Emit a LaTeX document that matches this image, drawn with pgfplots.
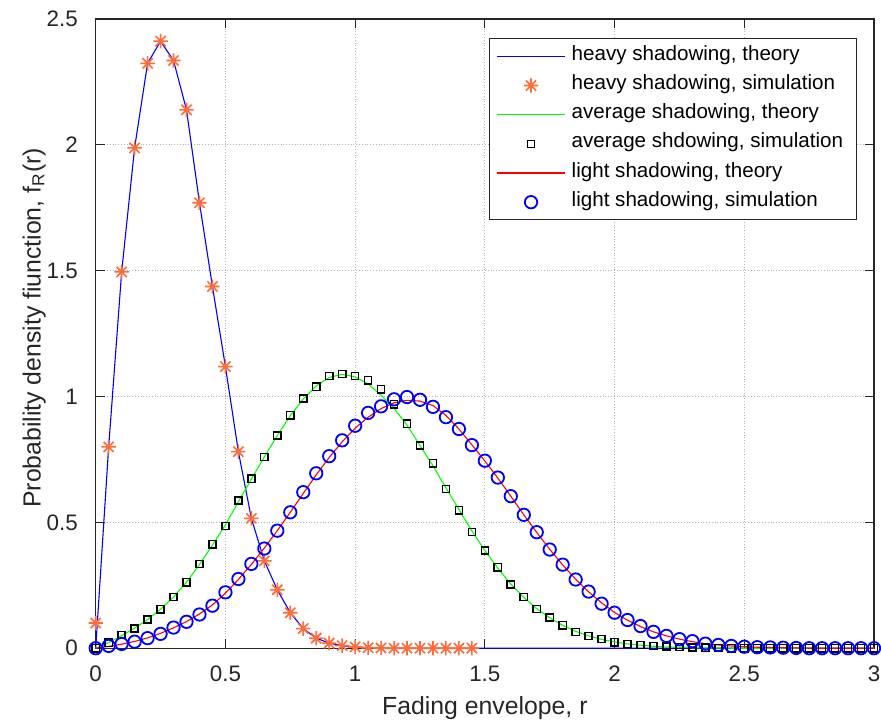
\documentclass[border=0pt]{standalone}
\usepackage{fontspec}
\setmainfont{Liberation Sans}
\usepackage{pgfplots}
\usepackage{pgfplotstable}
\pgfplotsset{compat=1.18}
\definecolor{axgray}{RGB}{38,38,38}
\definecolor{starorange}{RGB}{255,108,58}

\pgfdeclareplotmark{ast8}{%
  \pgfpathmoveto{\pgfqpoint{-\pgfplotmarksize}{0pt}}%
  \pgfpathlineto{\pgfqpoint{\pgfplotmarksize}{0pt}}%
  \pgfpathmoveto{\pgfqpoint{0pt}{-\pgfplotmarksize}}%
  \pgfpathlineto{\pgfqpoint{0pt}{\pgfplotmarksize}}%
  \pgfpathmoveto{\pgfqpoint{-0.7071\pgfplotmarksize}{-0.7071\pgfplotmarksize}}%
  \pgfpathlineto{\pgfqpoint{0.7071\pgfplotmarksize}{0.7071\pgfplotmarksize}}%
  \pgfpathmoveto{\pgfqpoint{-0.7071\pgfplotmarksize}{0.7071\pgfplotmarksize}}%
  \pgfpathlineto{\pgfqpoint{0.7071\pgfplotmarksize}{-0.7071\pgfplotmarksize}}%
  \pgfusepathqstroke}

\pgfplotstableread{
x     th     sim
0.00  0.000  0.100
0.05  0.800  0.800
0.10  1.495  1.495
0.15  1.988  1.988
0.20  2.324  2.324
0.25  2.412  2.412
0.30  2.335  2.335
0.35  2.139  2.139
0.40  1.770  1.770
0.45  1.437  1.437
0.50  1.119  1.119
0.55  0.781  0.781
0.60  0.516  0.516
0.65  0.347  0.347
0.70  0.232  0.232
0.75  0.141  0.141
0.80  0.078  0.078
0.85  0.040  0.040
0.90  0.020  0.020
0.95  0.010  0.010
1.00  0.005  0.005
1.05  0.002  0.002
1.10  0.001  0.001
1.15  0.000  0.000
1.20  0.000  0.000
1.25  0.000  0.000
1.30  0.000  0.000
1.35  0.000  0.000
1.40  0.000  0.000
1.45  0.000  0.000
1.50  0.000  nan
1.55  0.000  nan
1.60  0.000  nan
1.65  0.000  nan
1.70  0.000  nan
1.75  0.000  nan
1.80  0.000  nan
1.85  0.000  nan
1.90  0.000  nan
1.95  0.000  nan
2.00  0.000  nan
2.05  0.000  nan
2.10  0.000  nan
2.15  0.000  nan
2.20  0.000  nan
2.25  0.000  nan
2.30  0.000  nan
2.35  0.000  nan
2.40  0.000  nan
2.45  0.000  nan
2.50  0.000  nan
2.55  0.000  nan
2.60  0.000  nan
2.65  0.000  nan
2.70  0.000  nan
2.75  0.000  nan
2.80  0.000  nan
2.85  0.000  nan
2.90  0.000  nan
2.95  0.000  nan
3.00  0.000  nan
}\heavy

\pgfplotstableread{
x     th     sim
0.00  0.000  0.000
0.05  0.022  0.022
0.10  0.050  0.052
0.15  0.080  0.078
0.20  0.114  0.114
0.25  0.155  0.155
0.30  0.204  0.204
0.35  0.262  0.262
0.40  0.333  0.335
0.45  0.410  0.413
0.50  0.490  0.486
0.55  0.582  0.587
0.60  0.672  0.673
0.65  0.760  0.760
0.70  0.845  0.845
0.75  0.924  0.926
0.80  0.990  0.992
0.85  1.042  1.039
0.90  1.076  1.082
0.95  1.088  1.090
1.00  1.078  1.081
1.05  1.050  1.065
1.10  1.005  1.029
1.15  0.953  0.969
1.20  0.886  0.892
1.25  0.805  0.805
1.30  0.725  0.735
1.35  0.637  0.633
1.40  0.551  0.548
1.45  0.466  0.462
1.50  0.388  0.388
1.55  0.318  0.322
1.60  0.255  0.253
1.65  0.202  0.204
1.70  0.157  0.156
1.75  0.121  0.122
1.80  0.091  0.091
1.85  0.067  0.065
1.90  0.049  0.048
1.95  0.035  0.037
2.00  0.025  0.024
2.05  0.017  0.017
2.10  0.012  0.013
2.15  0.008  0.009
2.20  0.005  0.007
2.25  0.004  0.005
2.30  0.002  0.003
2.35  0.001  0.002
2.40  0.001  0.001
2.45  0.000  0.000
2.50  0.000  0.000
2.55  0.000  0.000
2.60  0.000  0.000
2.65  0.000  0.000
2.70  0.000  0.000
2.75  0.000  0.000
2.80  0.000  0.000
2.85  0.000  0.000
2.90  0.000  0.000
2.95  0.000  0.000
3.00  0.000  0.000
}\average

\pgfplotstableread{
x     th     sim
0.00  0.000  0.000
0.05  0.007  0.009
0.10  0.016  0.017
0.15  0.027  0.026
0.20  0.041  0.040
0.25  0.059  0.057
0.30  0.081  0.082
0.35  0.106  0.105
0.40  0.136  0.134
0.45  0.172  0.169
0.50  0.219  0.222
0.55  0.273  0.275
0.60  0.333  0.335
0.65  0.398  0.396
0.70  0.467  0.467
0.75  0.540  0.540
0.80  0.615  0.620
0.85  0.689  0.695
0.90  0.758  0.763
0.95  0.820  0.826
1.00  0.874  0.884
1.05  0.918  0.935
1.10  0.952  0.961
1.15  0.975  0.989
1.20  0.985  0.998
1.25  0.982  0.987
1.30  0.964  0.959
1.35  0.925  0.918
1.40  0.871  0.871
1.45  0.808  0.807
1.50  0.744  0.745
1.55  0.676  0.678
1.60  0.604  0.604
1.65  0.530  0.530
1.70  0.460  0.461
1.75  0.393  0.392
1.80  0.331  0.332
1.85  0.274  0.273
1.90  0.224  0.225
1.95  0.180  0.177
2.00  0.142  0.141
2.05  0.111  0.112
2.10  0.086  0.088
2.15  0.065  0.065
2.20  0.049  0.049
2.25  0.036  0.036
2.30  0.026  0.028
2.35  0.018  0.018
2.40  0.013  0.013
2.45  0.009  0.009
2.50  0.006  0.006
2.55  0.004  0.004
2.60  0.003  0.003
2.65  0.002  0.002
2.70  0.001  0.001
2.75  0.000  0.000
2.80  0.000  0.000
2.85  0.000  0.000
2.90  0.000  0.000
2.95  0.000  0.000
3.00  0.000  0.000
}\light

\pgfplotsset{
  myleg/.style={legend image code/.code={%
    \draw[mark repeat=2,mark phase=2,##1] plot coordinates {(0cm,0cm) (0.6cm,0cm) (1.2cm,0cm)};}},
}

\begin{document}
\begin{tikzpicture}
\begin{axis}[
  at={(0,0)}, anchor=south west,
  scale only axis,
  width=389.15pt, height=314.6pt,
  xmin=0, xmax=3, ymin=0, ymax=2.5,
  xtick={0,0.5,1,1.5,2,2.5,3},
  ytick={0,0.5,1,1.5,2,2.5},
  xticklabels={0,0.5,1,1.5,2,2.5,3},
  yticklabels={0,0.5,1,1.5,2,2.5},
  tick align=inside,
  major tick length=4.5pt,
  tick style={axgray, line width=0.6pt},
  axis line style={axgray, line width=0.7pt},
  grid=major,
  major grid style={densely dotted, black!30, line width=0.5pt},
  ticklabel style={font=\fontsize{11.2}{13}\selectfont, text=axgray},
  xticklabel style={yshift=-5.3pt},
  yticklabel style={xshift=-5.4pt},
  every axis x label/.style={at={(axis description cs:0.5,-0.106)}, anchor=base, font=\fontsize{12.4}{14}\selectfont, text=axgray},
  every axis y label/.style={at={(axis description cs:-0.0707,0.509)}, anchor=base, rotate=90, font=\fontsize{12.4}{14}\selectfont, text=axgray},
  xlabel={Fading envelope, r},
  ylabel={Probability density fiunction, f\textsubscript{R}(r)},
  clip=false,
  legend cell align=left,
  legend style={at={(axis description cs:0.9778,0.9695)}, anchor=north east,
    draw=axgray, line width=0.6pt, fill=white,
    inner xsep=3.5pt, inner ysep=1.5pt, row sep=0pt,
    font=\fontsize{10.3}{12}\selectfont,
    nodes={inner ysep=0pt, inner xsep=3pt, text height=9.3pt, text depth=5.28pt, text=black}},
]
\addplot[blue, line width=0.55pt, myleg] table[x=x, y=th] {\heavy};
\addlegendentry{heavy shadowing, theory}
\addplot[only marks, mark=ast8, mark size=3.6pt, draw=starorange, line width=0.8pt, myleg] table[x=x, y=sim] {\heavy};
\addlegendentry{heavy shadowing, simulation}
\addplot[green, line width=0.55pt, myleg] table[x=x, y=th] {\average};
\addlegendentry{average shadowing, theory}
\addplot[only marks, mark=square, mark size=1.8pt, draw=black, line width=0.75pt, myleg] table[x=x, y=sim] {\average};
\addlegendentry{average shdowing, simulation}
\addplot[red, line width=0.55pt, myleg] table[x=x, y=th] {\light};
\addlegendentry{light shadowing, theory}
\addplot[only marks, mark=o, mark size=3.1pt, draw=blue, line width=0.9pt, myleg] table[x=x, y=sim] {\light};
\addlegendentry{light shadowing, simulation}
\end{axis}
\pgfresetboundingbox
\path[use as bounding box] (-47.85pt,-38.35pt) rectangle (392.65pt,324.1pt);
\end{tikzpicture}
\end{document}
